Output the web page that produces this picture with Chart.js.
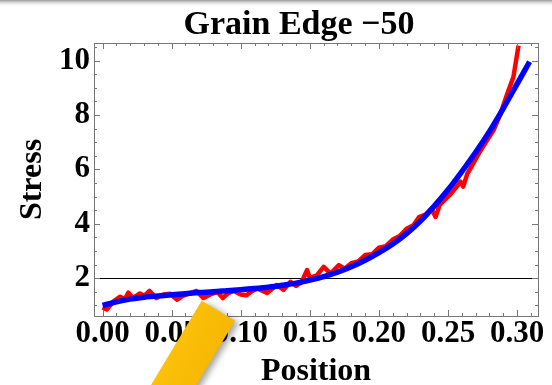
<!DOCTYPE html>
<html>
<head>
<meta charset="utf-8">
<script src="https://cdn.jsdelivr.net/npm/chart.js@4"></script>
<style>
  html, body { margin: 0; padding: 0; background: #fff; }
  #wrap {
    position: relative; width: 552px; height: 385px;
    background: linear-gradient(to bottom, #999 0px, #cfcfcf 2px, #efefef 4px, #fff 6px);
  }
</style>
</head>
<body>
<div id="wrap"><canvas id="chart"></canvas></div>
<script>
const titleText = 'Grain Edge \u221250';
const xLabel = 'Position';
const yLabel = 'Stress';

const xTicks = [0, 0.05, 0.10, 0.15, 0.20, 0.25, 0.30];
const yTicks = [2, 4, 6, 8, 10];
const refLevel = 2;

// smooth fit (blue)
const fitX = [0, 0.01, 0.02, 0.03, 0.04, 0.05, 0.06, 0.07, 0.08, 0.09, 0.10, 0.11, 0.12, 0.13, 0.14, 0.15,
  0.16, 0.17, 0.18, 0.19, 0.20, 0.21, 0.22, 0.23, 0.24, 0.25, 0.26, 0.27, 0.28, 0.29, 0.30, 0.309];
const fitY = [1.00, 1.13, 1.23, 1.30, 1.35, 1.39, 1.43, 1.47, 1.50, 1.54, 1.58, 1.62, 1.67, 1.74, 1.82, 1.93,
  2.06, 2.22, 2.42, 2.66, 2.94, 3.26, 3.64, 4.10, 4.65, 5.25, 5.92, 6.63, 7.40, 8.25, 9.15, 9.96];

// measured stress (red)
const measX = [0, 0.003, 0.008, 0.0127, 0.016, 0.0187, 0.022, 0.027, 0.030, 0.034, 0.039, 0.044, 0.049, 0.054,
  0.058, 0.063, 0.068, 0.073, 0.078, 0.083, 0.087, 0.091, 0.095, 0.100, 0.104, 0.108, 0.112, 0.119, 0.123,
  0.126, 0.131, 0.136, 0.140, 0.144, 0.148, 0.150, 0.155, 0.160, 0.165, 0.171, 0.175, 0.180, 0.185, 0.190,
  0.195, 0.200, 0.205, 0.210, 0.215, 0.220, 0.225, 0.229, 0.234, 0.238, 0.241, 0.244, 0.247, 0.252, 0.256,
  0.259, 0.261, 0.264, 0.268, 0.273, 0.278, 0.283, 0.288, 0.2926, 0.2973, 0.301];
const measY = [0.92, 0.85, 1.15, 1.32, 1.22, 1.47, 1.27, 1.44, 1.35, 1.53, 1.27, 1.40, 1.43, 1.21,
  1.35, 1.44, 1.53, 1.27, 1.40, 1.50, 1.27, 1.45, 1.53, 1.40, 1.37, 1.52, 1.62, 1.46, 1.62,
  1.75, 1.57, 1.87, 1.72, 1.85, 2.30, 2.01, 2.10, 2.42, 2.17, 2.48, 2.35, 2.55, 2.62, 2.85,
  2.88, 3.12, 3.18, 3.42, 3.55, 3.82, 3.95, 4.25, 4.35, 4.55, 4.25, 4.70, 4.85, 5.10, 5.35,
  5.55, 5.37, 5.85, 6.20, 6.65, 7.05, 7.45, 8.05, 8.75, 9.40, 10.55];

const serif = '"Liberation Serif", "Times New Roman", serif';

const framePlugin = {
  id: 'frame',
  beforeDatasetsDraw(chart) {
    const { ctx, chartArea: a, scales } = chart;
    const y = scales.y.getPixelForValue(refLevel);
    ctx.save();
    ctx.strokeStyle = '#000';
    ctx.lineWidth = 1;
    ctx.beginPath();
    ctx.moveTo(a.left, Math.round(y) + 0.5);
    ctx.lineTo(a.right, Math.round(y) + 0.5);
    ctx.stroke();
    ctx.restore();
  },
  afterDraw(chart) {
    const { ctx, chartArea: a, scales } = chart;
    ctx.save();
    ctx.strokeStyle = '#777';
    ctx.lineWidth = 1;
    ctx.strokeRect(Math.round(a.left) + 0.5, Math.round(a.top) + 0.5,
      Math.round(a.right - a.left), Math.round(a.bottom - a.top));

    ctx.beginPath();
    // x ticks, minor every 0.01, major every 0.05
    for (let i = 0; i <= 31; i++) {
      const v = i / 100;
      const px = Math.round(scales.x.getPixelForValue(v)) + 0.5;
      const len = i % 5 === 0 ? 6 : 3;
      ctx.moveTo(px, a.bottom); ctx.lineTo(px, a.bottom - len);
      ctx.moveTo(px, a.top); ctx.lineTo(px, a.top + len);
    }
    // y ticks, minor every 0.5, major every 2
    for (let i = 2; i <= 21; i++) {
      const v = i / 2;
      const py = Math.round(scales.y.getPixelForValue(v)) + 0.5;
      const len = i % 4 === 0 ? 6 : 3;
      ctx.moveTo(a.left, py); ctx.lineTo(a.left + len, py);
      ctx.moveTo(a.right, py); ctx.lineTo(a.right - len, py);
    }
    ctx.stroke();

    // title
    ctx.fillStyle = '#000';
    ctx.font = 'bold 34px ' + serif;
    ctx.textAlign = 'center';
    ctx.textBaseline = 'alphabetic';
    ctx.fillText(titleText, 299, 34);

    // yellow marker overlay
    ctx.shadowColor = 'rgba(0,0,0,0.35)';
    ctx.shadowBlur = 6;
    ctx.shadowOffsetX = 4;
    ctx.shadowOffsetY = 2;
    const g = ctx.createLinearGradient(150, 300, 235, 340);
    g.addColorStop(0, '#ffc812');
    g.addColorStop(1, '#f6b600');
    ctx.fillStyle = g;
    ctx.beginPath();
    ctx.moveTo(201.7, 300.7);
    ctx.lineTo(235, 320.7);
    ctx.lineTo(178.4, 415);
    ctx.lineTo(145, 395);
    ctx.closePath();
    ctx.fill();
    ctx.restore();
  }
};

new Chart(document.getElementById('chart'), {
  type: 'line',
  data: {
    datasets: [
      {
        data: fitX.map((x, i) => ({ x, y: fitY[i] })),
        borderColor: '#0000ff',
        borderWidth: 5.5,
        pointRadius: 0,
        tension: 0.4,
        cubicInterpolationMode: 'monotone'
      },
      {
        data: measX.map((x, i) => ({ x, y: measY[i] })),
        borderColor: '#ff0000',
        borderWidth: 4.5,
        borderJoinStyle: 'round',
        pointRadius: 0,
        tension: 0
      }
    ]
  },
  options: {
    responsive: true,
    maintainAspectRatio: false,
    animation: false,
    layout: { padding: { left: 0, right: 14, top: 43, bottom: 0 } },
    plugins: {
      legend: { display: false },
      tooltip: { enabled: false },
      title: { display: false }
    },
    scales: {
      x: {
        type: 'linear',
        min: -0.0062,
        max: 0.3151,
        grid: { display: false, drawTicks: false },
        border: { display: false },
        afterBuildTicks: s => { s.ticks = xTicks.map(v => ({ value: v })); },
        afterFit: s => { s.height = 69; },
        ticks: {
          autoSkip: false,
          maxRotation: 0,
          padding: 2,
          color: '#000',
          font: { family: serif, size: 31, weight: 'bold', lineHeight: 1 },
          callback: v => Number(v).toFixed(2)
        },
        title: {
          display: true,
          text: xLabel,
          color: '#000',
          padding: 0,
          font: { family: serif, size: 32, weight: 'bold', lineHeight: 0.85 }
        }
      },
      y: {
        min: 0.61,
        max: 10.65,
        grid: { display: false, drawTicks: false },
        border: { display: false },
        afterBuildTicks: s => { s.ticks = yTicks.map(v => ({ value: v })); },
        afterFit: s => { s.width = 94; },
        ticks: {
          padding: 4,
          color: '#000',
          font: { family: serif, size: 31, weight: 'bold' },
          callback: v => String(v)
        },
        title: {
          display: true,
          text: yLabel,
          color: '#000',
          padding: { top: 14, bottom: 0 },
          font: { family: serif, size: 32, weight: 'bold' }
        }
      }
    }
  },
  plugins: [framePlugin]
});
</script>
</body>
</html>
